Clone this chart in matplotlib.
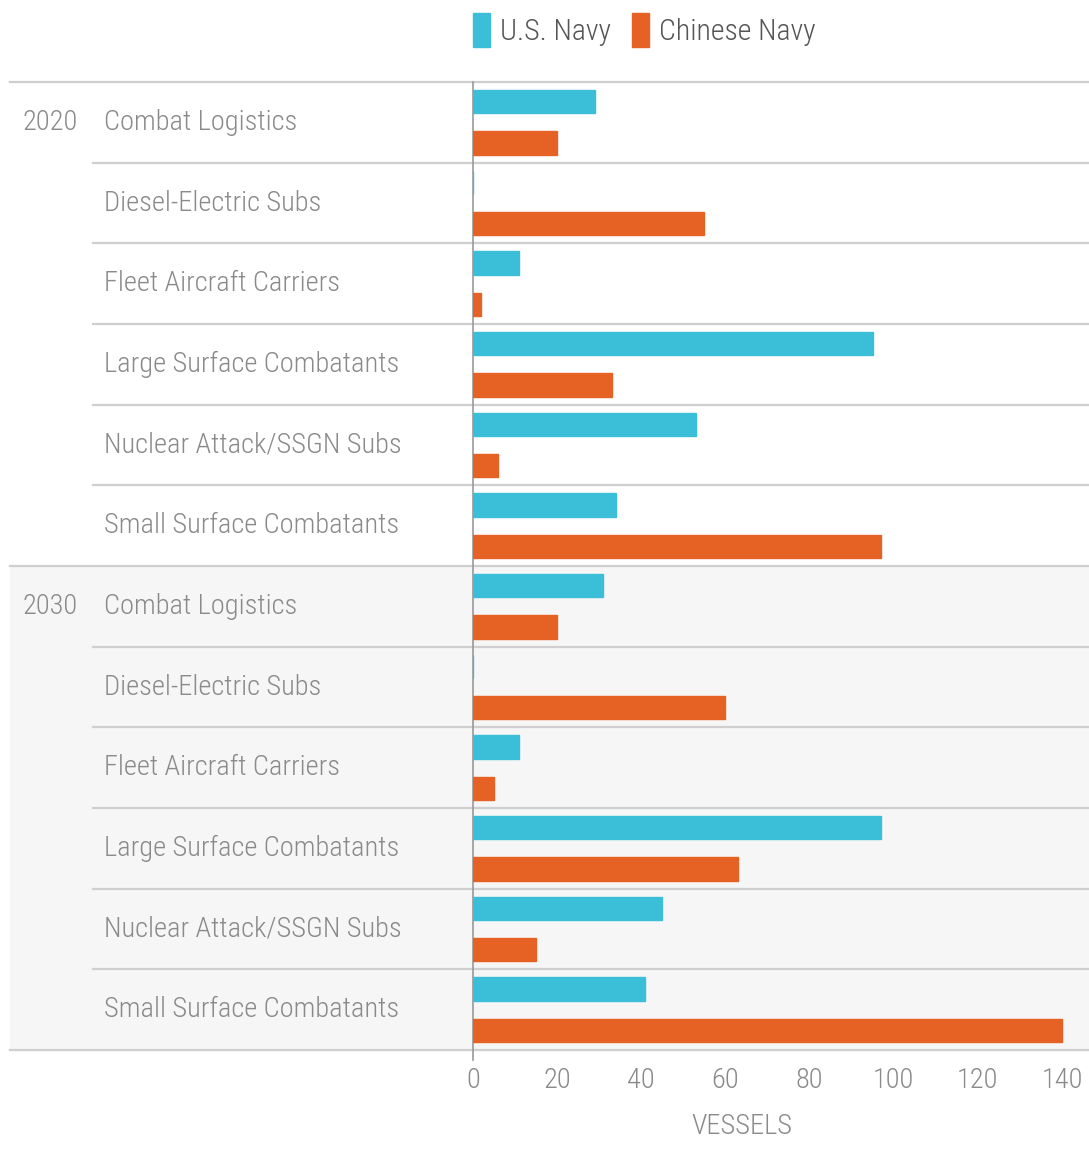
import matplotlib
matplotlib.use("Agg")
import matplotlib.pyplot as plt
from matplotlib.patches import Patch
import numpy as np

years = ["2020", "2030"]
categories = [
    "Combat Logistics",
    "Diesel-Electric Subs",
    "Fleet Aircraft Carriers",
    "Large Surface Combatants",
    "Nuclear Attack/SSGN Subs",
    "Small Surface Combatants",
]
us_2020 = [29, 0, 11, 95, 53, 34]
cn_2020 = [20, 55, 2, 33, 6, 97]
us_2030 = [31, 0, 11, 97, 45, 41]
cn_2030 = [20, 60, 5, 63, 15, 140]
xticks = [0, 20, 40, 60, 80, 100, 120, 140]

US_COLOR = "#3bbed8"
CN_COLOR = "#e66224"
TEXT = "#8a8a8a"
LINE = "#cfcfcf"

plt.rcParams["font.family"] = ["Roboto Condensed", "Liberation Sans Narrow", "DejaVu Sans"]
plt.rcParams["font.stretch"] = "condensed"
plt.rcParams["font.weight"] = "light"
FS = 20.5

us = us_2020 + us_2030
cn = cn_2020 + cn_2030
labels = categories + categories
y = np.arange(len(labels))

W, H = 1089, 1151
fig = plt.figure(figsize=(W / 100, H / 100), dpi=100)
fig.patch.set_facecolor("white")

x0, x1 = 473, 1089
top, bot = 82, 1050
ax = fig.add_axes([x0 / W, (H - bot) / H, (x1 - x0) / W, (bot - top) / H])
px_per_unit = (1062 - 473) / 140
ax.set_xlim(0, (x1 - x0) / px_per_unit)
ax.set_ylim(len(labels) - 0.5, -0.5)

def fx(px):
    return (px - x0) / (x1 - x0)

trans = ax.get_yaxis_transform()

# light grey band behind the 2030 group
ax.axhspan(5.5, 11.5, xmin=fx(10), xmax=1, color="#f6f6f6", zorder=0, clip_on=False)

ax.barh(y - 0.255, us, height=0.29, color=US_COLOR, edgecolor=US_COLOR, linewidth=1.0, zorder=5)
ax.barh(y + 0.255, cn, height=0.29, color=CN_COLOR, edgecolor=CN_COLOR, linewidth=1.0, zorder=5)

# row separators
for i in range(len(labels) + 1):
    yy = i - 0.5
    start = fx(10) if i in (0, 6, 12) else fx(93)
    ax.plot([start, 1], [yy, yy], transform=trans, color=LINE, lw=1.6,
            clip_on=False, zorder=1)

ax.plot([0, 0], [-0.5, 11.62], color="#999999", lw=1.2, zorder=4, clip_on=False)

for i, lab in enumerate(labels):
    ax.text(fx(104), i, lab, transform=trans, ha="left", va="center",
            fontsize=FS, color=TEXT)
for k, yr in enumerate(years):
    ax.text(fx(22), k * 6, yr, transform=trans, ha="left", va="center",
            fontsize=FS, color=TEXT)

for s in ax.spines.values():
    s.set_visible(False)
ax.set_yticks([])
ax.set_xticks(xticks)
ax.set_xticklabels([str(t) for t in xticks])
ax.tick_params(axis="x", length=0, labelsize=FS, labelcolor=TEXT, pad=12)
ax.set_xlabel("VESSELS", fontsize=FS, color=TEXT, fontweight="light")
ax.xaxis.set_label_coords(fx(742), -0.065)

handles = [Patch(color=US_COLOR, label="U.S. Navy"),
           Patch(color=CN_COLOR, label="Chinese Navy")]
fig.legend(handles=handles, loc="center left", bbox_to_anchor=(0.41, 0.974),
           ncol=2, frameon=False, fontsize=FS + 1, labelcolor="#555555",
           handlelength=0.55, handleheight=1.4, handletextpad=0.35,
           columnspacing=0.7)

fig.savefig("out.png", dpi=100, facecolor="white")
